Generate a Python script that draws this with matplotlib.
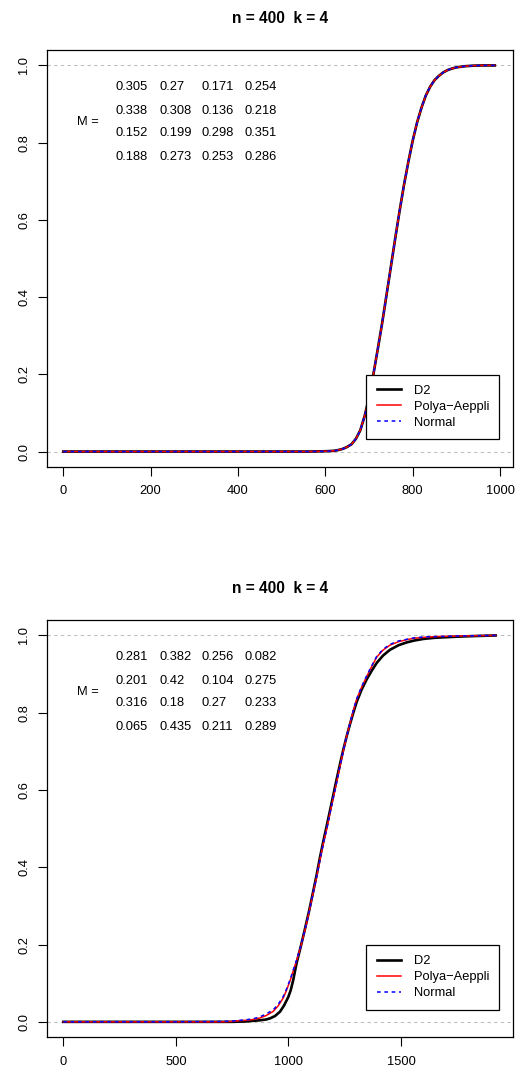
import matplotlib
matplotlib.use("Agg")
import matplotlib.pyplot as plt
from matplotlib.lines import Line2D

plt.rcParams['font.family'] = ['Liberation Sans', 'DejaVu Sans']

# ---------------- data ----------------
title_top = "n = 400  k = 4"
title_bottom = "n = 400  k = 4"

M_top = [[0.305, 0.27, 0.171, 0.254],
         [0.338, 0.308, 0.136, 0.218],
         [0.152, 0.199, 0.298, 0.351],
         [0.188, 0.273, 0.253, 0.286]]
M_bottom = [[0.281, 0.382, 0.256, 0.082],
            [0.201, 0.42, 0.104, 0.275],
            [0.316, 0.18, 0.27, 0.233],
            [0.065, 0.435, 0.211, 0.289]]

# top panel (curves overlap almost exactly)
top_x = [0, 200, 400, 560, 600, 610, 620, 630, 640, 650, 660, 670, 680, 690,
         700, 710, 720, 730, 740, 750, 760, 770, 780, 790, 800, 810, 820, 830,
         840, 850, 860, 870, 880, 890, 900, 920, 940, 960, 988]
top_d2 = [0, 0, 0, 0, 0.0008, 0.0013, 0.002, 0.004, 0.007, 0.012, 0.019, 0.033,
          0.055, 0.092, 0.140, 0.200, 0.265, 0.332, 0.405, 0.478, 0.552, 0.623,
          0.690, 0.750, 0.805, 0.852, 0.890, 0.922, 0.945, 0.962, 0.973, 0.982,
          0.988, 0.992, 0.995, 0.998, 0.9995, 1.0, 1.0]
top_polya = [0, 0, 0, 0, 0.0008, 0.0013, 0.002, 0.004, 0.007, 0.012, 0.019, 0.033,
             0.055, 0.092, 0.140, 0.200, 0.265, 0.332, 0.405, 0.478, 0.552, 0.623,
             0.690, 0.750, 0.805, 0.852, 0.890, 0.922, 0.945, 0.962, 0.973, 0.982,
             0.988, 0.992, 0.995, 0.998, 0.9995, 1.0, 1.0]
top_normal = [0, 0, 0, 0, 0.0008, 0.0013, 0.002, 0.004, 0.007, 0.012, 0.019, 0.033,
              0.055, 0.092, 0.140, 0.200, 0.265, 0.332, 0.405, 0.478, 0.552, 0.623,
              0.690, 0.750, 0.805, 0.852, 0.890, 0.922, 0.945, 0.962, 0.973, 0.982,
              0.988, 0.992, 0.995, 0.998, 0.9995, 1.0, 1.0]

# bottom panel
bot_x_d2 = [0, 500, 700, 750, 784, 810, 830, 850, 873, 900, 918, 940, 962, 980,
            999, 1010, 1021, 1036, 1055, 1073, 1090, 1110, 1125, 1140, 1155, 1172,
            1190, 1214, 1230, 1243, 1258, 1273, 1288, 1303, 1325, 1347, 1370, 1392,
            1420, 1451, 1490, 1525, 1560, 1599, 1650, 1717, 1800, 1920]
bot_d2 = [0, 0, 0, 0, 0.0005, 0.001, 0.002, 0.003, 0.004, 0.006, 0.009, 0.015,
          0.026, 0.042, 0.064, 0.082, 0.108, 0.152, 0.196, 0.240, 0.283, 0.338,
          0.380, 0.426, 0.468, 0.513, 0.562, 0.628, 0.670, 0.703, 0.738, 0.770,
          0.800, 0.828, 0.860, 0.886, 0.909, 0.929, 0.948, 0.963, 0.975, 0.982,
          0.987, 0.991, 0.994, 0.996, 0.998, 1.0]

bot_x = [0, 500, 700, 750, 784, 810, 830, 850, 873, 900, 932, 955, 977, 990,
         1007, 1020, 1036, 1055, 1073, 1090, 1110, 1125, 1140, 1155, 1172, 1190,
         1214, 1230, 1243, 1258, 1273, 1288, 1303, 1325, 1347, 1370, 1392, 1420,
         1451, 1490, 1525, 1560, 1599, 1650, 1717, 1800, 1920]
bot_polya = [0, 0, 0, 0.001, 0.003, 0.004, 0.005, 0.007, 0.010, 0.016, 0.027,
             0.042, 0.062, 0.080, 0.106, 0.130, 0.158, 0.196, 0.237, 0.280, 0.335,
             0.375, 0.420, 0.462, 0.505, 0.556, 0.620, 0.665, 0.700, 0.738, 0.772,
             0.805, 0.835, 0.866, 0.893, 0.920, 0.944, 0.962, 0.975, 0.984, 0.989,
             0.993, 0.995, 0.997, 0.998, 0.999, 1.0]
bot_normal = [0, 0, 0.001, 0.002, 0.004, 0.005, 0.007, 0.009, 0.013, 0.020, 0.031,
              0.046, 0.066, 0.083, 0.109, 0.132, 0.160, 0.197, 0.238, 0.280, 0.335,
              0.375, 0.420, 0.462, 0.505, 0.556, 0.620, 0.665, 0.700, 0.738, 0.772,
              0.806, 0.836, 0.868, 0.895, 0.922, 0.946, 0.964, 0.977, 0.986, 0.990,
              0.994, 0.996, 0.997, 0.998, 0.999, 1.0]

top_xticks = [0, 200, 400, 600, 800, 1000]
bot_xticks = [0, 500, 1000, 1500]
yticks = [0.0, 0.2, 0.4, 0.6, 0.8, 1.0]
labels = ["D2", "Polya\u2212Aeppli", "Normal"]

# ---------------- figure ----------------
W, H = 517, 1072
fig = plt.figure(figsize=(W / 100, H / 100), dpi=100)

FS = 9.3
col_x = [0.1481, 0.2410, 0.3326, 0.4255]
row_y = [0.9106, 0.8544, 0.8002, 0.7441]
DASH_BLUE = (0, (2.4, 2.4))


def panel(rect, title, xd2, d2, xm, polya, normal, M, xticks, xlim):
    ax = fig.add_axes(rect)
    ax.axhline(0, color="#bebebe", lw=0.75, ls=(0, (3.2, 3.2)), zorder=1)
    ax.axhline(1, color="#bebebe", lw=0.75, ls=(0, (3.2, 3.2)), zorder=1)
    ax.plot(xd2, d2, color="black", lw=1.9, zorder=2)
    ax.plot(xm, polya, color="red", lw=1.1, zorder=3)
    ax.plot(xm, normal, color="blue", lw=1.1, ls=DASH_BLUE, zorder=4)
    ax.set_xlim(*xlim)
    ax.set_ylim(-0.04, 1.04)
    ax.set_xticks(xticks)
    ax.set_xticklabels([str(t) for t in xticks])
    ax.set_yticks(yticks)
    ax.set_yticklabels([f"{t:.1f}" for t in yticks])
    ax.tick_params(axis="both", length=6.5, width=0.8, labelsize=FS, direction="out")
    ax.tick_params(axis="x", pad=6.8)
    ax.tick_params(axis="y", pad=5.4, labelrotation=90)
    for lab in ax.get_yticklabels():
        lab.set_va("center")
    for s in ax.spines.values():
        s.set_linewidth(0.9)
    ax.set_title(title, fontsize=11.2, fontweight="bold", pad=19.5)
    # matrix annotation
    ax.text(0.0644, (row_y[1] + row_y[2]) / 2, "M =", transform=ax.transAxes,
            ha="left", va="center", fontsize=FS)
    for i, row in enumerate(M):
        for j, v in enumerate(row):
            ax.text(col_x[j], row_y[i], f"{v:g}", transform=ax.transAxes,
                    ha="left", va="center", fontsize=FS)
    handles = [Line2D([], [], color="black", lw=1.9),
               Line2D([], [], color="red", lw=1.1),
               Line2D([], [], color="blue", lw=1.1, ls=DASH_BLUE)]
    leg = ax.legend(handles, labels, loc="lower right",
                    bbox_to_anchor=(0.9712, 0.0664), borderaxespad=0,
                    fontsize=FS, handlelength=1.91, handletextpad=0.95,
                    borderpad=0.8, labelspacing=0.31, fancybox=False,
                    framealpha=1, edgecolor="black")
    leg.get_frame().set_linewidth(0.9)
    return ax


def frac_rect(left, top, right, bottom):
    return [left / W, 1 - bottom / H, (right - left) / W, (bottom - top) / H]


panel(frac_rect(46.7, 50, 512.7, 467), title_top, top_x, top_d2, top_x,
      top_polya, top_normal, M_top, top_xticks, (-38, 1029))
panel(frac_rect(46.7, 620, 512.7, 1037.3), title_bottom, bot_x_d2, bot_d2, bot_x,
      bot_polya, bot_normal, M_bottom, bot_xticks, (-74, 1996))

fig.savefig("out.png", dpi=100)
